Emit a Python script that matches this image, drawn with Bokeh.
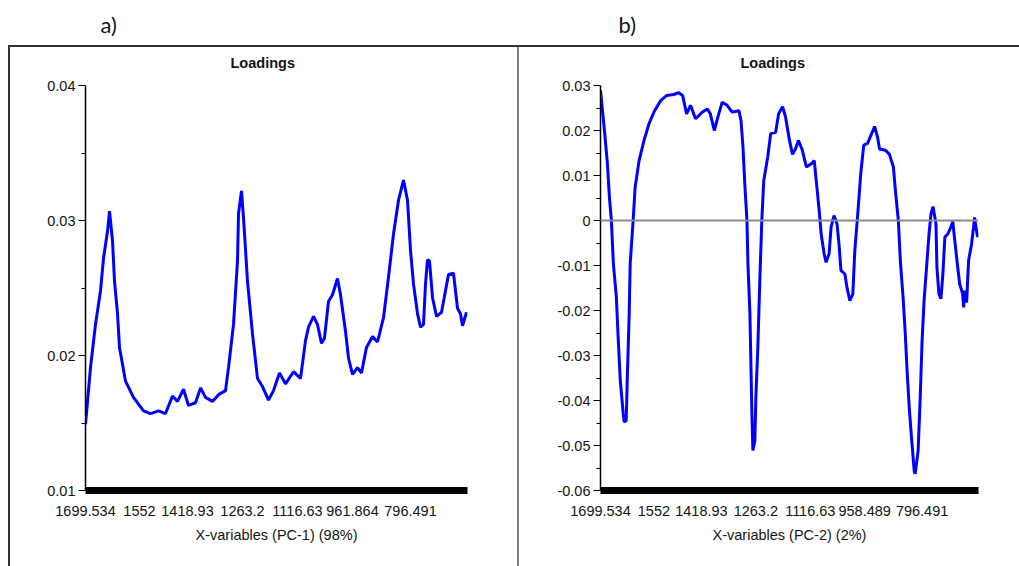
from bokeh.plotting import figure
from bokeh.models import Title, Span, FixedTicker, Range1d
from bokeh.layouts import row
from bokeh.embed import file_html
from bokeh.resources import INLINE

# ---------------- data ----------------
tick_idx = [0, 54, 102, 157, 212, 267, 325]
tick_labels_a = ["1699.534", "1552", "1418.93", "1263.2", "1116.63", "961.864", "796.491"]
tick_labels_b = ["1699.534", "1552", "1418.93", "1263.2", "1116.63", "958.489", "796.491"]

yticks_a = [0.01, 0.02, 0.03, 0.04]
ylabels_a = ["0.01", "0.02", "0.03", "0.04"]
yticks_b = [-0.06, -0.05, -0.04, -0.03, -0.02, -0.01, 0, 0.01, 0.02, 0.03]
ylabels_b = ["-0.06", "-0.05", "-0.04", "-0.03", "-0.02", "-0.01", "0", "0.01", "0.02", "0.03"]

idx_a = [0, 5, 10, 15, 18, 22, 24, 27, 29, 32, 34, 40, 48, 58, 65, 73, 80, 87, 92, 98,
         103, 110, 115, 120, 127, 133, 140, 143, 148, 152, 153, 156, 158, 162, 167, 172,
         177, 183, 188, 194, 200, 208, 215, 220, 223, 228, 232, 236, 239, 243, 247, 252,
         255, 260, 263, 267, 272, 276, 281, 287, 292, 298, 303, 308, 313, 318, 322, 325,
         328, 332, 335, 338, 340, 342, 344, 347, 351, 356, 360, 363, 368, 372, 375, 377,
         379, 381]
pc1 = [0.0149, 0.0191, 0.0223, 0.0248, 0.0272, 0.0292, 0.0307, 0.0285, 0.0255, 0.0231,
       0.0206, 0.0181, 0.0169, 0.0159, 0.0157, 0.0159, 0.0157, 0.0170, 0.0166, 0.0175,
       0.0163, 0.0165, 0.0176, 0.0169, 0.0166, 0.0171, 0.0174, 0.0191, 0.0223, 0.0270,
       0.0305, 0.0322, 0.0302, 0.0255, 0.0216, 0.0183, 0.0177, 0.0167, 0.0174, 0.0187,
       0.0179, 0.0188, 0.0183, 0.0211, 0.0221, 0.0229, 0.0223, 0.0209, 0.0213, 0.0240,
       0.0245, 0.0257, 0.0245, 0.0218, 0.0198, 0.0186, 0.0191, 0.0187, 0.0206, 0.0214,
       0.0210, 0.0228, 0.0258, 0.0290, 0.0315, 0.0330, 0.0315, 0.0278, 0.0253, 0.0231,
       0.0221, 0.0223, 0.0253, 0.0271, 0.0270, 0.0243, 0.0229, 0.0232, 0.0248, 0.0260,
       0.0261, 0.0235, 0.0231, 0.0222, 0.0227, 0.0232]

idx_b = [0, 2, 4, 7, 9, 11, 13, 16, 18, 20, 23, 24, 26, 27, 29, 30, 33, 35, 39, 44,
         49, 54, 61, 67, 74, 79, 83, 87, 91, 96, 103, 108, 111, 115, 119, 123, 128, 133,
         140, 142, 144, 146, 148, 149, 151, 152, 153, 154, 156, 157, 159, 161, 163, 165,
         169, 172, 177, 180, 184, 187, 191, 194, 197, 200, 204, 208, 213, 216, 218, 221,
         223, 226, 228, 231, 233, 236, 239, 241, 243, 247, 249, 252, 255, 257, 260, 263,
         266, 270, 274, 277, 280, 282, 288, 292, 296, 298, 301, 303, 306, 308, 310, 312,
         314, 317, 318, 321, 323, 325, 327, 330, 332, 334, 336, 339, 340, 342, 344, 346,
         348, 351, 354, 356, 358, 361, 363, 366, 367, 368, 370, 372, 375, 377, 378, 380,
         381]
pc2 = [0.0289, 0.0244, 0.0200, 0.0126, 0.0052, 0.0, -0.0096, -0.0170, -0.0267, -0.0356,
       -0.0430, -0.0448, -0.0444, -0.0356, -0.0207, -0.0096, 0.0, 0.0074, 0.0133, 0.0178,
       0.0215, 0.0241, 0.0267, 0.0278, 0.0280, 0.0284, 0.0278, 0.0237, 0.0256, 0.0226,
       0.0241, 0.0248, 0.0237, 0.0200, 0.0233, 0.0263, 0.0256, 0.0241, 0.0244, 0.0222,
       0.0163, 0.0074, 0.0, -0.0096, -0.0207, -0.0319, -0.0430, -0.0511, -0.0489, -0.0393,
       -0.0282, -0.0133, 0.0, 0.0089, 0.0141, 0.0193, 0.0196, 0.0237, 0.0253, 0.0230,
       0.0178, 0.0147, 0.0159, 0.0178, 0.0156, 0.0119, 0.0126, 0.0133, 0.0089, 0.0022,
       -0.0030, -0.0074, -0.0093, -0.0074, -0.0015, 0.0011, -0.0007, -0.0052, -0.0111, -0.0119,
       -0.0148, -0.0178, -0.0163, -0.0067, 0.0015, 0.0104, 0.0167, 0.0172, 0.0193, 0.0209,
       0.0185, 0.0159, 0.0156, 0.0147, 0.0119, 0.0067, 0.0, -0.0089, -0.0178, -0.0252,
       -0.0341, -0.0415, -0.0474, -0.0556, -0.0563, -0.0511, -0.0400, -0.0267, -0.0178, -0.0089,
       -0.0030, 0.0015, 0.0031, -0.0007, -0.0104, -0.0163, -0.0174, -0.0119, -0.0037, -0.0030,
       -0.0015, -0.0002, -0.0044, -0.0104, -0.0141, -0.0163, -0.0193, -0.0156, -0.0182, -0.0089,
       -0.0052, -0.0015, 0.0007, -0.0022, -0.0037]

TXT = "#141414"
FONT = "Liberation Sans"
BLUE = "#0000FF"
FS = "14.5px"


def make_panel(width, left, right, top, bottom, yr, yticks, ylabels, xtick_labels,
               xlabel, tag, tag_off, title_off):
    p = figure(width=width, height=566, output_backend="svg", toolbar_location=None,
               x_range=Range1d(0, 382), y_range=Range1d(*yr),
               min_border_left=left, min_border_right=right,
               min_border_top=top, min_border_bottom=bottom)
    p.outline_line_color = None
    p.grid.grid_line_color = None
    p.background_fill_color = "white"
    p.border_fill_color = None

    xa = p.xaxis[0]
    xa.ticker = FixedTicker(ticks=tick_idx, minor_ticks=[])
    xa.major_label_overrides = {t: l for t, l in zip(tick_idx, xtick_labels)}
    xa.axis_line_width = 7
    xa.axis_line_color = "black"
    xa.major_tick_line_color = None
    xa.minor_tick_line_color = None
    xa.major_tick_out = 0
    xa.major_tick_in = 0
    xa.major_label_standoff = 15
    xa.major_label_text_font = FONT
    xa.major_label_text_font_size = FS
    xa.major_label_text_color = TXT
    xa.axis_label = xlabel
    xa.axis_label_text_font = FONT
    xa.axis_label_text_font_size = FS
    xa.axis_label_text_font_style = "normal"
    xa.axis_label_text_color = TXT
    xa.axis_label_standoff = 8

    ya = p.yaxis[0]
    step = yticks[1] - yticks[0]
    minor = [round(t + step / 2, 4) for t in yticks[:-1]]
    ya.ticker = FixedTicker(ticks=yticks, minor_ticks=minor)
    ya.major_label_overrides = {t: l for t, l in zip(yticks, ylabels)}
    ya.axis_line_width = 1.5
    ya.axis_line_color = "black"
    ya.major_tick_line_color = "black"
    ya.major_tick_line_width = 1.2
    ya.major_tick_out = 7
    ya.major_tick_in = 0
    ya.minor_tick_line_color = "black"
    ya.minor_tick_out = 4
    ya.minor_tick_in = 0
    ya.major_label_standoff = 3
    ya.major_label_text_font = FONT
    ya.major_label_text_font_size = FS
    ya.major_label_text_color = TXT

    p.add_layout(Title(text="Loadings", align="left", offset=title_off, standoff=30,
                       text_font=FONT, text_font_size=FS, text_font_style="bold",
                       text_color=TXT), "above")
    p.add_layout(Title(text=tag, align="left", offset=tag_off, standoff=0,
                       text_font="Lato", text_font_size="22px", text_font_style="normal",
                       text_color=TXT), "above")
    return p


# ---------------- panel a ----------------
pa = make_panel(518, 85, 51, 85, 76, (0.01, 0.04), yticks_a, ylabels_a,
                tick_labels_a, "X-variables (PC-1) (98%)", "a)", 15, 145)
pa.line(idx_a, pc1, line_color=BLUE, line_width=3)

# ---------------- panel b ----------------
pb = make_panel(501, 82, 41, 85, 76, (-0.06, 0.03), yticks_b, ylabels_b,
                tick_labels_b, "X-variables (PC-2) (2%)", "b)", 18, 140)
pb.add_layout(Span(location=0, dimension="width", line_color="#8c8c8c", line_width=2))
pb.line(idx_b, pc2, line_color=BLUE, line_width=3)

frame_css = {
    "background-image": "linear-gradient(#333333,#333333), linear-gradient(#333333,#333333), "
                        "linear-gradient(#7f7f7f,#7f7f7f)",
    "background-position": "8px 45px, 8px 45px, 517px 46px",
    "background-size": "1011px 2px, 2px 521px, 2px 520px",
    "background-repeat": "no-repeat",
    "background-color": "white",
}
layout = row(pa, pb, styles=frame_css)
open("out.html", "w").write(file_html(layout, INLINE))
